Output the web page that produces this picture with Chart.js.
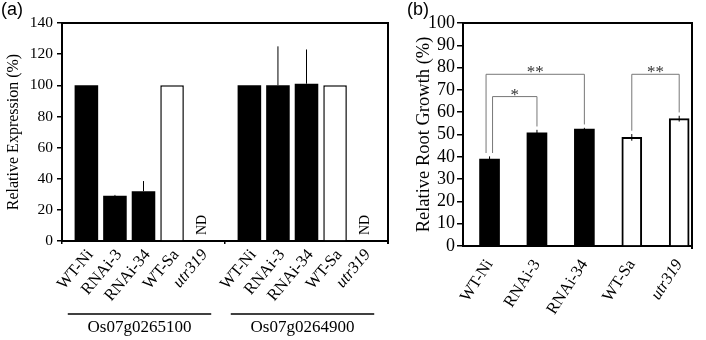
<!DOCTYPE html>
<html>
<head>
<meta charset="utf-8">
<script src="https://cdn.jsdelivr.net/npm/chart.js@4"></script>
<style>
  html, body { margin: 0; padding: 0; background: #fff; }
  #wrap { position: relative; width: 706px; height: 340px; }
  #boxA { position: absolute; left: 0; top: 0; width: 400px; height: 340px; }
  #boxB { position: absolute; left: 400px; top: 0; width: 306px; height: 340px; }
</style>
</head>
<body>
<div id="wrap">
  <div id="boxA"><canvas id="chartA"></canvas></div>
  <div id="boxB"><canvas id="chartB"></canvas></div>
</div>
<script>
// panel (a): relative expression of the two genes
const genes = ["Os07g0265100", "Os07g0264900"];
const lines = ["WT-Ni", "RNAi-3", "RNAi-34", "WT-Sa", "utr319"];
const expr265100 = [100, 29, 32, 100, null];   // null = ND
const err265100 = [0, 0.6, 6.5, 0, 0];
const expr264900 = [100, 100, 101, 100, null];
const err264900 = [0, 25, 22, 0, 0];
const exprTicks = [0, 20, 40, 60, 80, 100, 120, 140];

// panel (b): relative root growth
const growth = [39, 50.8, 52.4, 48.7, 57.1];
const growthErr = [1.2, 1.3, 0.6, 1.5, 1.3];
const growthTicks = [0, 10, 20, 30, 40, 50, 60, 70, 80, 90, 100];
const sigPairs = [[0, 2], [0, 1], [3, 4]];
const sigLevels = [77, 67, 77];
const sigMarks = ["**", "*", "**"];

const serif = "'Liberation Serif', 'Times New Roman', serif";
const fills = ["#000", "#000", "#000", "#fff", "#fff"];

// top and right edges of the plot frame
const boxFrame = {
    id: "boxFrame",
    afterDraw(chart) {
        const ctx = chart.ctx, a = chart.chartArea;
        ctx.save();
        ctx.strokeStyle = "#000";
        ctx.lineWidth = 2;
        ctx.beginPath();
        ctx.moveTo(a.left, a.top);
        ctx.lineTo(a.right, a.top);
        ctx.lineTo(a.right, a.bottom + 3);
        ctx.stroke();
        ctx.restore();
    }
};

const plugA = {
    id: "plugA",
    afterDatasetsDraw(chart) {
        const ctx = chart.ctx, a = chart.chartArea, y = chart.scales.y, x = chart.scales.x;
        const errs = [err265100, err264900];
        const vals = [expr265100, expr264900];
        ctx.save();
        lines.forEach((name, i) => {
            const meta = chart.getDatasetMeta(i);
            meta.data.forEach((el, g) => {
                const v = vals[g][i];
                const e = errs[g][i];
                if (v != null && e > 0) {
                    ctx.strokeStyle = "#000";
                    ctx.lineWidth = 1;
                    ctx.beginPath();
                    ctx.moveTo(el.x, y.getPixelForValue(v));
                    ctx.lineTo(el.x, y.getPixelForValue(v + e));
                    ctx.stroke();
                }
                if (v == null) {
                    ctx.save();
                    ctx.translate(el.x + 2, a.bottom - 6);
                    ctx.rotate(-Math.PI / 2);
                    ctx.fillStyle = "#000";
                    ctx.font = "14px " + serif;
                    ctx.textAlign = "left";
                    ctx.textBaseline = "middle";
                    ctx.fillText("ND", 0, 0);
                    ctx.restore();
                }
                // rotated line label under each bar
                ctx.save();
                ctx.translate(el.x + 4, a.bottom + 11);
                ctx.rotate(-50 * Math.PI / 180);
                ctx.fillStyle = "#000";
                ctx.font = (i === 4 ? "italic " : "") + "16.5px " + serif;
                ctx.textAlign = "right";
                ctx.textBaseline = "middle";
                ctx.fillText(name, 0, 0);
                ctx.restore();
            });
        });
        // underline above each gene name
        const w = x.width / genes.length;
        genes.forEach((gname, g) => {
            const cx = x.getPixelForTick(g) - 4;
            ctx.strokeStyle = "#000";
            ctx.lineWidth = 1.5;
            ctx.beginPath();
            ctx.moveTo(cx - w * 0.44, a.bottom + 73);
            ctx.lineTo(cx + w * 0.44, a.bottom + 73);
            ctx.stroke();
        });
        ctx.fillStyle = "#000";
        ctx.font = "18px 'Liberation Sans', Arial, sans-serif";
        ctx.textAlign = "left";
        ctx.textBaseline = "top";
        ctx.fillText("(a)", 1, 1);
        ctx.restore();
    }
};

new Chart(document.getElementById("chartA"), {
    type: "bar",
    data: {
        labels: genes,
        datasets: lines.map((name, i) => ({
            label: name,
            data: [expr265100[i], expr264900[i]],
            backgroundColor: fills[i],
            borderColor: "#000",
            borderWidth: i >= 3 ? 1.5 : 0,
            categoryPercentage: 0.876,
            barPercentage: 0.825
        }))
    },
    options: {
        responsive: true,
        maintainAspectRatio: false,
        animation: false,
        layout: { padding: { top: 23, right: 12, left: 0, bottom: 0 } },
        plugins: { legend: { display: false }, tooltip: { enabled: false } },
        scales: {
            x: {
                grid: { drawOnChartArea: false, tickLength: 3, color: "#000", lineWidth: 1.5 },
                border: { color: "#000", width: 2 },
                ticks: {
                    padding: 73, color: "#000", maxRotation: 0, autoSkip: false, labelOffset: -4,
                    font: { family: serif, size: 17 }
                },
                afterFit(s) { s.height = 99; s.paddingLeft = 0; s.paddingRight = 0; }
            },
            y: {
                min: 0, max: 140,
                afterBuildTicks(s) { s.ticks = exprTicks.map(v => ({ value: v })); },
                grid: { drawOnChartArea: false, tickLength: 5, color: "#000", lineWidth: 1.5 },
                border: { color: "#000", width: 2 },
                ticks: { padding: 4, autoSkip: false, color: "#000", font: { family: serif, size: 15.5 } },
                title: {
                    display: true, text: "Relative Expression (%)", color: "#000",
                    font: { family: serif, size: 16 }, padding: { top: 4, bottom: 0 }
                },
                afterFit(s) { s.width = 62; }
            }
        }
    },
    plugins: [plugA, boxFrame]
});

const plugB = {
    id: "plugB",
    afterDatasetsDraw(chart) {
        const ctx = chart.ctx, y = chart.scales.y;
        const meta = chart.getDatasetMeta(0);
        ctx.save();
        ctx.strokeStyle = "#000";
        ctx.lineWidth = 1;
        meta.data.forEach((el, i) => {
            ctx.beginPath();
            ctx.moveTo(el.x, y.getPixelForValue(growth[i] - growthErr[i]));
            ctx.lineTo(el.x, y.getPixelForValue(growth[i] + growthErr[i]));
            ctx.stroke();
        });
        // significance brackets
        const shift = [-3.5, 3, 0];
        sigPairs.forEach(([p, q], k) => {
            const x1 = meta.data[p].x + shift[k];
            const x2 = meta.data[q].x;
            const yt = y.getPixelForValue(sigLevels[k]);
            const y1 = y.getPixelForValue(growth[p] + growthErr[p] + 1.5);
            const y2 = y.getPixelForValue(growth[q] + growthErr[q] + 1.5);
            ctx.strokeStyle = "#777";
            ctx.lineWidth = 1;
            ctx.beginPath();
            ctx.moveTo(x1, y1);
            ctx.lineTo(x1, yt);
            ctx.lineTo(x2, yt);
            ctx.lineTo(x2, y2);
            ctx.stroke();
            ctx.fillStyle = "#333";
            ctx.font = "17px " + serif;
            ctx.textAlign = "center";
            ctx.textBaseline = "alphabetic";
            ctx.fillText(sigMarks[k], (x1 + x2) / 2, yt + 3);
        });
        ctx.fillStyle = "#000";
        ctx.font = "18px 'Liberation Sans', Arial, sans-serif";
        ctx.textAlign = "left";
        ctx.textBaseline = "top";
        ctx.fillText("(b)", 7, 1);
        ctx.restore();
    }
};

new Chart(document.getElementById("chartB"), {
    type: "bar",
    data: {
        datasets: [{
            data: growth.map((v, i) => ({ x: i, y: v })),
            backgroundColor: fills,
            borderColor: "#000",
            borderWidth: fills.map(f => f === "#fff" ? 2 : 0),
            barThickness: 20
        }]
    },
    options: {
        responsive: true,
        maintainAspectRatio: false,
        animation: false,
        layout: { padding: { top: 23, right: 14, left: 0, bottom: 0 } },
        plugins: { legend: { display: false }, tooltip: { enabled: false } },
        scales: {
            x: {
                type: "linear", min: -0.56, max: 4.27, offset: false,
                grid: { display: true, drawOnChartArea: false, drawTicks: false, offset: false },
                border: { color: "#000", width: 2 },
                ticks: {
                    stepSize: 1, includeBounds: false, autoSkip: false,
                    minRotation: 57, maxRotation: 57, padding: 10, color: "#000",
                    callback: v => lines[v] ?? "",
                    font: c => ({ family: serif, size: 16.5, style: c.tick && c.tick.value === 4 ? "italic" : "normal" })
                },
                afterFit(s) { s.height = 94; s.paddingLeft = 0; s.paddingRight = 0; }
            },
            y: {
                min: 0, max: 100,
                afterBuildTicks(s) { s.ticks = growthTicks.map(v => ({ value: v })); },
                grid: { drawOnChartArea: false, tickLength: 6, color: "#000", lineWidth: 1.5 },
                border: { color: "#000", width: 2 },
                ticks: { padding: 2, autoSkip: false, color: "#000", font: { family: serif, size: 18 } },
                title: {
                    display: true, text: "Relative Root Growth (%)", color: "#000",
                    font: { family: serif, size: 18.5 }, padding: { top: 13, bottom: 0 }
                },
                afterFit(s) { s.width = 63; }
            }
        }
    },
    plugins: [plugB, boxFrame]
});
</script>
</body>
</html>
